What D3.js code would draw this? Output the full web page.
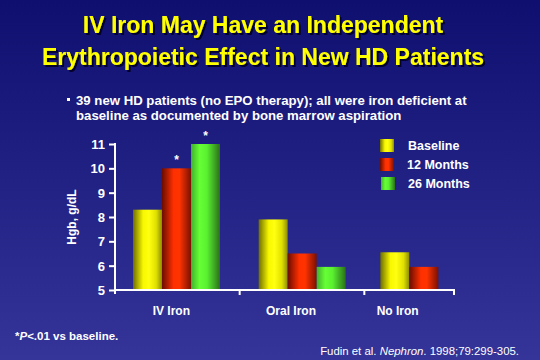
<!DOCTYPE html>
<html><head><meta charset="utf-8">
<script src="https://cdn.jsdelivr.net/npm/d3@7"></script>
<style>html,body{margin:0;padding:0;background:#222288;}svg{display:block;}</style>
</head><body>
<script>
const categories = ["IV Iron", "Oral Iron", "No Iron"];
const seriesNames = ["Baseline", "12 Months", "26 Months"];
const baseline = [8.3, 7.9, 6.55];
const months12 = [10.0, 6.5, 5.95];
const months26 = [11.0, 5.95, null];
const significant12 = [true, false, false];
const significant26 = [true, false, false];
const yTicks = [5, 6, 7, 8, 9, 10, 11];

const W = 540, H = 360;
const svg = d3.select("body").append("svg").attr("width", W).attr("height", H);
const defs = svg.append("defs");

const bg = defs.append("linearGradient").attr("id","bg").attr("x1",0).attr("y1",0).attr("x2",0).attr("y2",1);
bg.append("stop").attr("offset","0%").attr("stop-color","#0f0f70");
bg.append("stop").attr("offset","100%").attr("stop-color","#343499");
svg.append("rect").attr("width",W).attr("height",H).attr("fill","url(#bg)");

const sh = defs.append("filter").attr("id","sh").attr("x","-10%").attr("y","-30%").attr("width","120%").attr("height","160%");
sh.append("feDropShadow").attr("dx",2).attr("dy",2).attr("stdDeviation",0.3).attr("flood-color","#000020").attr("flood-opacity",0.9);

function grad(id, stops){
  const g = defs.append("linearGradient").attr("id",id).attr("x1",0).attr("y1",0).attr("x2",1).attr("y2",0);
  stops.forEach(s=>g.append("stop").attr("offset",s[0]).attr("stop-color",s[1]));
}
grad("gY",[["0%","#6e6e00"],["35%","#f8f800"],["55%","#ffff10"],["80%","#e0e000"],["100%","#8c8c00"]]);
grad("gR",[["0%","#6a0c00"],["40%","#ff3000"],["60%","#ff3300"],["100%","#7a1000"]]);
grad("gG",[["0%","#40b030"],["30%","#66ff33"],["55%","#5af030"],["100%","#2a7018"]]);
const fills = ["url(#gY)","url(#gR)","url(#gG)"];

const font = "Liberation Sans, Arial, sans-serif";
const titleLines = ["IV Iron May Have an Independent","Erythropoietic Effect in New HD Patients"];
const tY = [33, 65];
titleLines.forEach((t,i)=>{
  svg.append("text").attr("x",263).attr("y",tY[i]).attr("text-anchor","middle")
    .attr("font-family",font).attr("font-weight","bold").attr("font-size",23)
    .attr("fill","#ffff00").attr("filter","url(#sh)").text(t);
});

// bullet
svg.append("rect").attr("x",67).attr("y",98).attr("width",3).attr("height",3).attr("fill","#fff");
svg.append("text").attr("x",76).attr("y",105).attr("font-family",font).attr("font-weight","bold").attr("font-size",13.2)
  .attr("fill","#fff").text("39 new HD patients (no EPO therapy); all were iron deficient at");
svg.append("text").attr("x",76).attr("y",120).attr("font-family",font).attr("font-weight","bold").attr("font-size",13.2)
  .attr("fill","#fff").text("baseline as documented by bone marrow aspiration");

// scales
const x0 = d3.scaleBand().domain(categories).range([115, 489]).paddingInner(0).paddingOuter(0);
const y = d3.scaleLinear().domain([5, 11]).range([290, 144]);
const barW = 29;
const groupOffset = [18, 19, 16];

const g = svg.append("g");
const seriesVals = [baseline, months12, months26];
categories.forEach((c, ci)=>{
  seriesVals.forEach((vals, si)=>{
    const v = vals[ci];
    if (v == null) return;
    const xl = x0(c) + groupOffset[ci] + si*barW;
    g.append("rect").attr("x", xl).attr("y", y(v)).attr("width", barW).attr("height", y(5)-y(v))
      .attr("fill", fills[si]);
  });
  const sig = [false, significant12[ci], significant26[ci]];
  sig.forEach((s, si)=>{
    if(!s) return;
    const v = seriesVals[si][ci];
    svg.append("text").attr("x", x0(c)+groupOffset[ci]+si*barW+barW/2).attr("y", y(v)-4)
      .attr("text-anchor","middle").attr("font-family",font).attr("font-weight","bold").attr("font-size",12)
      .attr("fill","#fff").text("*");
  });
});

// y axis
const yAxis = d3.axisLeft(y).tickValues(yTicks).tickSize(6).tickPadding(4).tickFormat(d3.format("d"));
const ya = svg.append("g").attr("transform","translate(115,0)").call(yAxis);
ya.select(".domain").remove();
ya.selectAll("line").attr("stroke","#fff").attr("stroke-width",2);
ya.selectAll("text").attr("fill","#fff").attr("font-family",font).attr("font-weight","bold").attr("font-size",13).attr("dy","0.35em");
svg.append("line").attr("x1",115).attr("x2",115).attr("y1",143).attr("y2",294).attr("stroke","#fff").attr("stroke-width",2);

// x axis
svg.append("line").attr("x1",114).attr("x2",455).attr("y1",290).attr("y2",290).attr("stroke","#fff").attr("stroke-width",2);
const xTickPos = [x0(categories[1]), x0(categories[2]), 454];
xTickPos.forEach(p=>{
  svg.append("line").attr("x1",p).attr("x2",p).attr("y1",290).attr("y2",295).attr("stroke","#fff").attr("stroke-width",2);
});
const labelOffset = [-6, -11, -29];
categories.forEach((c,ci)=>{
  svg.append("text").attr("x", x0(c)+x0.bandwidth()/2+labelOffset[ci]).attr("y", 315).attr("text-anchor","middle")
    .attr("font-family",font).attr("font-weight","bold").attr("font-size",12).attr("fill","#fff").text(c);
});

// y label
svg.append("text").attr("transform","translate(76,217) rotate(-90)").attr("text-anchor","middle")
  .attr("font-family",font).attr("font-weight","bold").attr("font-size",12).attr("fill","#fff").text("Hgb, g/dL");

// legend
const legY = [139, 158, 177];
const legX = [380, 380, 381];
seriesNames.forEach((n,i)=>{
  svg.append("rect").attr("x",legX[i]).attr("y",legY[i]).attr("width",14).attr("height",13).attr("fill",fills[i]);
  svg.append("text").attr("x",408+(i===1?-1:0)).attr("y",legY[i]+11).attr("font-family",font).attr("font-weight","bold")
    .attr("font-size",12.5).attr("fill","#fff").text(n);
});

// footnote
const fn = svg.append("text").attr("x",15).attr("y",340).attr("font-family",font).attr("font-weight","bold").attr("font-size",11.5).attr("fill","#fff");
fn.append("tspan").text("*");
fn.append("tspan").attr("font-style","italic").text("P");
fn.append("tspan").text("<.01 vs baseline.");

const ct = svg.append("text").attr("x",519).attr("y",355).attr("text-anchor","end").attr("font-family",font).attr("font-size",11.4).attr("fill","#fff");
ct.append("tspan").text("Fudin et al. ");
ct.append("tspan").attr("font-style","italic").text("Nephron");
ct.append("tspan").text(". 1998;79:299-305.");
</script>
</body></html>
